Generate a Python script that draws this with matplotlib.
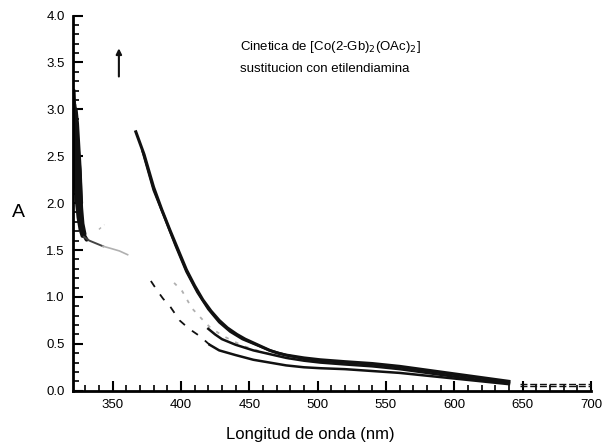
import matplotlib
matplotlib.use("Agg")
import matplotlib.pyplot as plt
from matplotlib.ticker import MultipleLocator

# ---- data ----
x_left_a = [321.5, 322, 322.5, 323, 323.5, 324, 325, 326, 327.5, 329, 331]
y_left_a = [3.20, 3.00, 2.80, 2.60, 2.40, 2.20, 2.00, 1.90, 1.75, 1.66, 1.61]
x_left_b = [322, 323, 324, 325, 326, 326.5, 327, 328, 329.5]
y_left_b = [3.05, 2.90, 2.70, 2.50, 2.30, 2.10, 1.95, 1.78, 1.67]
x_left_c = [321, 321.5, 322, 323, 324, 325, 326.5, 328]
y_left_c = [3.10, 2.80, 2.50, 2.20, 2.00, 1.85, 1.72, 1.65]
x_left_d = [323, 324, 325, 326, 326.5, 327]
y_left_d = [3.00, 2.85, 2.60, 2.35, 2.15, 2.00]

x_shoulder_dark = [329, 333, 338, 343]
y_shoulder_dark = [1.64, 1.60, 1.57, 1.54]
x_shoulder = [343, 348, 355, 361]
y_shoulder = [1.54, 1.52, 1.49, 1.45]
x_speck = [340, 344]
y_speck = [1.72, 1.77]

x_t1 = [367, 373, 380, 386, 392, 398, 404, 410, 416, 422, 428, 434, 441, 447, 453,
        459, 465, 471, 477, 490, 502, 520, 540, 560, 580, 600, 620, 640]
y_t1 = [2.76, 2.52, 2.17, 1.93, 1.71, 1.50, 1.29, 1.12, 0.97, 0.85, 0.75, 0.67, 0.60,
        0.55, 0.51, 0.47, 0.43, 0.40, 0.38, 0.35, 0.33, 0.31, 0.29, 0.26, 0.22, 0.18,
        0.14, 0.10]
x_t2 = [372, 380, 388, 396, 404, 412, 420, 428, 436, 445, 455, 465, 477, 490, 502,
        520, 540, 560, 580, 600, 620, 640]
y_t2 = [2.55, 2.14, 1.85, 1.55, 1.27, 1.05, 0.87, 0.73, 0.63, 0.55, 0.49, 0.43, 0.38,
        0.34, 0.32, 0.30, 0.28, 0.25, 0.21, 0.17, 0.13, 0.09]
x_t3 = [395, 401, 408, 415, 421, 430, 445, 460, 480]
y_t3 = [1.15, 1.06, 0.88, 0.77, 0.68, 0.59, 0.48, 0.41, 0.34]
x_t4 = [420, 425, 430, 440, 453, 465, 477, 490, 502, 520, 540, 560, 580, 600, 620, 640]
y_t4 = [0.66, 0.60, 0.55, 0.49, 0.43, 0.39, 0.35, 0.32, 0.30, 0.28, 0.26, 0.23, 0.19,
        0.15, 0.11, 0.08]
x_t5_dash = [378, 383, 387, 392, 399, 406, 414, 421]
y_t5_dash = [1.17, 1.06, 0.98, 0.90, 0.75, 0.66, 0.58, 0.49]
x_t5 = [421, 428, 440, 453, 465, 477, 490, 502, 520, 540, 560, 580, 600, 620, 640]
y_t5 = [0.49, 0.43, 0.38, 0.33, 0.30, 0.27, 0.25, 0.24, 0.23, 0.21, 0.19, 0.16, 0.13,
        0.10, 0.07]

x_tail = [648, 700]
y_tail_a = [0.07, 0.07]
y_tail_b = [0.05, 0.05]

x_ticks = [350, 400, 450, 500, 550, 600, 650, 700]
y_ticks = [0.0, 0.5, 1.0, 1.5, 2.0, 2.5, 3.0, 3.5, 4.0]

plt.rcParams['font.family'] = ['Liberation Sans', 'DejaVu Sans']

fig = plt.figure(figsize=(6.03, 4.43), dpi=100)
ax = fig.add_axes([0.121, 0.118, 0.859, 0.847])

blk = '#111111'
gry = '#b0b0b0'
for xs, ys in ((x_left_a, y_left_a), (x_left_b, y_left_b),
               (x_left_c, y_left_c), (x_left_d, y_left_d)):
    ax.plot(xs, ys, color=blk, lw=2.8, solid_capstyle='round')
ax.plot(x_shoulder_dark, y_shoulder_dark, color='#444444', lw=1.4)
ax.plot(x_shoulder, y_shoulder, color=gry, lw=1.2)
ax.plot(x_speck, y_speck, color=gry, lw=1.0, ls=(0, (2, 3)))
ax.plot(x_t1, y_t1, color=blk, lw=2.2)
ax.plot(x_t2, y_t2, color=blk, lw=1.8)
ax.plot(x_t3, y_t3, color=gry, lw=1.3, ls=(0, (2, 4)))
ax.plot(x_t4, y_t4, color=blk, lw=1.8)
ax.plot(x_t5_dash, y_t5_dash, color=blk, lw=1.3, ls=(0, (4, 5)))
ax.plot(x_t5, y_t5, color=blk, lw=1.8)
ax.plot(x_tail, y_tail_a, color=blk, lw=1.0, ls=(0, (5, 2)))
ax.plot(x_tail, y_tail_b, color=blk, lw=1.0, ls=(0, (5, 2)))

ax.annotate('', xy=(354.6, 3.68), xytext=(354.6, 3.32),
            arrowprops=dict(arrowstyle='-|>', color=blk, lw=1.5, mutation_scale=8))

ax.set_xlim(321, 700)
ax.set_ylim(0, 4.0)
ax.set_xticks(x_ticks)
ax.set_yticks(y_ticks)
ax.set_yticklabels([f'{v:.1f}' for v in y_ticks])
ax.xaxis.set_minor_locator(MultipleLocator(10))
ax.yaxis.set_minor_locator(MultipleLocator(0.1))
for s in ('top', 'right'):
    ax.spines[s].set_visible(False)
for s in ('left', 'bottom'):
    ax.spines[s].set_linewidth(2.0)
ax.tick_params(which='major', direction='in', length=7, width=1.5, labelsize=9.5, pad=6)
ax.tick_params(which='minor', direction='in', length=4, width=1.2)

fig.text(0.514, 0.02, 'Longitud de onda (nm)', fontsize=12, ha='center', va='center')
fig.text(0.03, 0.52, 'A', fontsize=14, ha='center', va='center')

fig.text(0.398, 0.895, 'Cinetica de [Co(2-Gb)$_2$(OAc)$_2$]', fontsize=9.5, ha='left', va='center')
fig.text(0.398, 0.845, 'sustitucion con etilendiamina', fontsize=9.5, ha='left', va='center')

fig.savefig('out.png', dpi=100)
